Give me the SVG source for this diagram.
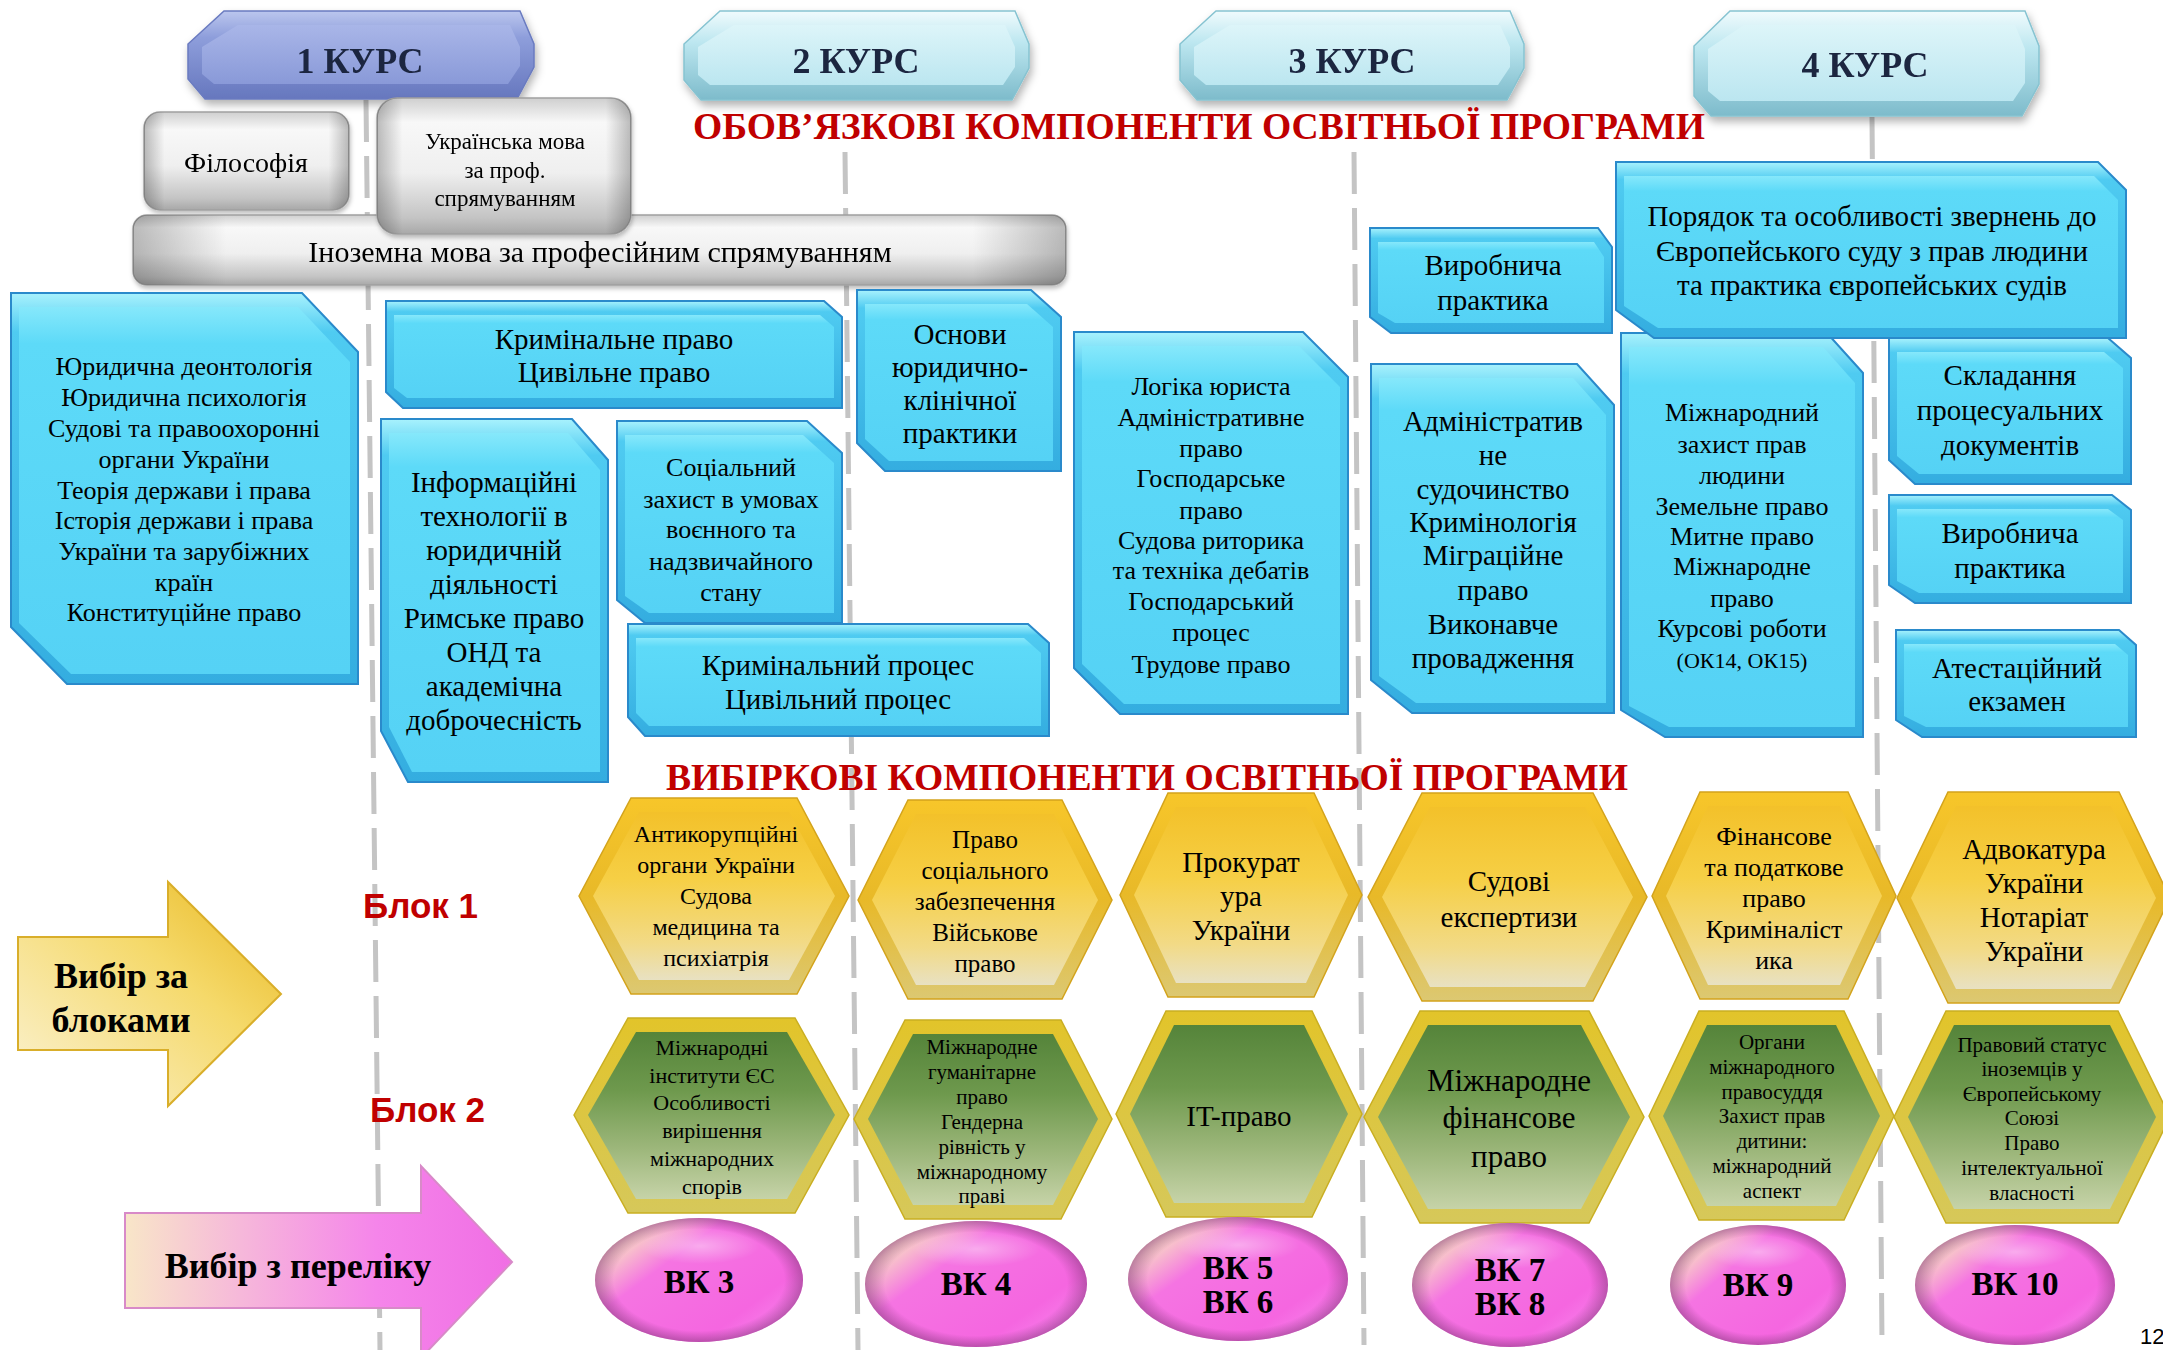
<svg xmlns="http://www.w3.org/2000/svg" width="2163" height="1350" viewBox="0 0 2163 1350">
<defs>
<style>
.t{font-family:"Liberation Serif","Times New Roman",serif;fill:#000;text-anchor:middle}
.f29{font-size:29px}.f26{font-size:26px}.f24{font-size:24px}.f22{font-size:22px}.f21{font-size:21px}
.hdr{font-family:"Liberation Serif","Times New Roman",serif;font-weight:bold;font-size:36px;fill:#1B2541;text-anchor:middle}
.ttl{font-family:"Liberation Serif","Times New Roman",serif;font-weight:bold;font-size:37px;fill:#C00000;text-anchor:middle}
.blk{font-family:"Liberation Sans",Arial,sans-serif;font-weight:bold;font-size:35px;fill:#C00000}
.bk{font-family:"Liberation Serif","Times New Roman",serif;font-weight:bold;font-size:33px;fill:#000;text-anchor:middle}
.arr{font-family:"Liberation Serif","Times New Roman",serif;font-weight:bold;font-size:36px;fill:#000;text-anchor:middle}
.bo{fill:url(#blueOuter);stroke:#2A8ACB;stroke-width:2}
.bi{fill:url(#blueInner)}
.yo{fill:url(#yelOuter);stroke:#D3A31C;stroke-width:1.5}
.yi{fill:url(#yelInner)}
.go{fill:url(#grnOuter);stroke:#C9AE22;stroke-width:1.5}
.gi{fill:url(#grnInner)}
.ball{fill:url(#pinkBall)}
.shade{fill:url(#ballShade)}
.hl{fill:url(#ballHl)}
.sep{fill:none;stroke:#C4C4C4;stroke-width:5;stroke-dasharray:42 14}
</style>
<linearGradient id="hbO" x1="0" y1="0" x2="0" y2="1"><stop offset="0" stop-color="#BBC6EE"/><stop offset="0.3" stop-color="#8E9EDB"/><stop offset="1" stop-color="#6677BE"/></linearGradient>
<linearGradient id="hbI" x1="0" y1="0" x2="0" y2="1"><stop offset="0" stop-color="#A9B6E8"/><stop offset="1" stop-color="#8999D8"/></linearGradient>
<linearGradient id="hcO" x1="0" y1="0" x2="0" y2="1"><stop offset="0" stop-color="#F0FBFD"/><stop offset="0.35" stop-color="#BDE7F0"/><stop offset="1" stop-color="#7DBBCB"/></linearGradient>
<linearGradient id="hcI" x1="0" y1="0" x2="0" y2="1"><stop offset="0" stop-color="#DDF5F9"/><stop offset="1" stop-color="#BBE6F0"/></linearGradient>
<linearGradient id="greyFill" x1="0" y1="0" x2="0" y2="1"><stop offset="0" stop-color="#CFCFCF"/><stop offset="0.18" stop-color="#F8F8F8"/><stop offset="0.55" stop-color="#EFEFEF"/><stop offset="0.88" stop-color="#C4C4C4"/><stop offset="1" stop-color="#A8A8A8"/></linearGradient>
<linearGradient id="greySide" x1="0" y1="0" x2="1" y2="0"><stop offset="0" stop-color="#000" stop-opacity="0.25"/><stop offset="0.1" stop-color="#000" stop-opacity="0"/><stop offset="0.9" stop-color="#000" stop-opacity="0"/><stop offset="1" stop-color="#000" stop-opacity="0.25"/></linearGradient>
<linearGradient id="blueOuter" x1="0" y1="0" x2="0" y2="1"><stop offset="0" stop-color="#A8F2FD"/><stop offset="0.1" stop-color="#4FCBF1"/><stop offset="1" stop-color="#34ADE0"/></linearGradient>
<linearGradient id="blueInner" x1="0" y1="0" x2="0" y2="1"><stop offset="0" stop-color="#86E8FB"/><stop offset="0.1" stop-color="#5DDAF8"/><stop offset="1" stop-color="#55D2F5"/></linearGradient>
<linearGradient id="yelOuter" x1="0" y1="0" x2="0" y2="1"><stop offset="0" stop-color="#F7C62A"/><stop offset="0.5" stop-color="#E8B928"/><stop offset="1" stop-color="#DCC872"/></linearGradient>
<linearGradient id="yelInner" x1="0" y1="0" x2="0" y2="1"><stop offset="0" stop-color="#F3C12A"/><stop offset="0.4" stop-color="#F6CF45"/><stop offset="0.78" stop-color="#F2DA86"/><stop offset="1" stop-color="#E8E1C2"/></linearGradient>
<linearGradient id="grnOuter" x1="0" y1="0" x2="0" y2="1"><stop offset="0" stop-color="#E2C42A"/><stop offset="1" stop-color="#D6C85A"/></linearGradient>
<linearGradient id="grnInner" x1="0" y1="0" x2="0" y2="1"><stop offset="0" stop-color="#55843A"/><stop offset="0.35" stop-color="#6E994D"/><stop offset="0.7" stop-color="#9DB77B"/><stop offset="1" stop-color="#C6D3A8"/></linearGradient>
<linearGradient id="pinkBall" x1="0" y1="0.1" x2="1" y2="0.9"><stop offset="0" stop-color="#F6F2B4"/><stop offset="0.14" stop-color="#F8D2C6"/><stop offset="0.34" stop-color="#F574E2"/><stop offset="0.75" stop-color="#F566E0"/><stop offset="1" stop-color="#F98AF0"/></linearGradient>
<radialGradient id="ballShade" cx="0.5" cy="0.5" r="0.5"><stop offset="0.82" stop-color="#8A3A80" stop-opacity="0"/><stop offset="1" stop-color="#8A3A80" stop-opacity="0.55"/></radialGradient>
<radialGradient id="ballHl" cx="0.5" cy="0.5" r="0.5"><stop offset="0" stop-color="#FFFFFF" stop-opacity="0.4"/><stop offset="1" stop-color="#FFFFFF" stop-opacity="0"/></radialGradient>
<linearGradient id="yelArrow" x1="1" y1="0" x2="0" y2="1"><stop offset="0" stop-color="#E8B61E"/><stop offset="0.4" stop-color="#F5D96A"/><stop offset="1" stop-color="#FBF3D6"/></linearGradient>
<linearGradient id="pinkArrow" x1="0" y1="0" x2="1" y2="0"><stop offset="0" stop-color="#F8E6C8"/><stop offset="0.3" stop-color="#F6B8DA"/><stop offset="0.65" stop-color="#F585EA"/><stop offset="1" stop-color="#F06EE4"/></linearGradient>
<filter id="sh" x="-10%" y="-10%" width="120%" height="140%"><feDropShadow dx="2" dy="5" stdDeviation="4" flood-color="#000" flood-opacity="0.3"/></filter>
<filter id="sh2" x="-10%" y="-10%" width="120%" height="130%"><feDropShadow dx="1" dy="3" stdDeviation="2" flood-color="#000" flood-opacity="0.25"/></filter>
</defs>
<rect width="2163" height="1350" fill="#FFFFFF"/>

<g id="connectors">
<line class="sep" x1="366" y1="100" x2="380" y2="1350"/>
<line class="sep" x1="845" y1="152" x2="858" y2="1350"/>
<line class="sep" x1="1354" y1="152" x2="1364" y2="1345"/>
<line class="sep" x1="1872" y1="117" x2="1882" y2="1345"/>
</g>

<g id="kurs1" filter="url(#sh)">
<polygon points="224,11 520,11 534,44 534,67 517,99 205,99 188,79 188,44" fill="url(#hbO)" stroke="#6A7BC0" stroke-width="1.5"/>
<polygon points="238,25 510,25 520,47 520,66 508,84 214,84 202,74 202,47" fill="url(#hbI)"/>
<text class="hdr" x="360" y="73">1 КУРС</text>
</g>
<g id="kurs2" filter="url(#sh)">
<polygon points="720,11 1015,11 1029,44 1029,68 1012,100 701,100 684,80 684,44" fill="url(#hcO)" stroke="#86C3D1" stroke-width="1.5"/>
<polygon points="734,25 1005,25 1015,47 1015,67 1003,85 710,85 698,75 698,47" fill="url(#hcI)"/>
<text class="hdr" x="856" y="73">2 КУРС</text>
</g>
<g id="kurs3" filter="url(#sh)">
<polygon points="1216,11 1510,11 1524,44 1524,68 1507,100 1197,100 1180,80 1180,44" fill="url(#hcO)" stroke="#86C3D1" stroke-width="1.5"/>
<polygon points="1230,25 1500,25 1510,47 1510,67 1498,85 1206,85 1194,75 1194,47" fill="url(#hcI)"/>
<text class="hdr" x="1352" y="73">3 КУРС</text>
</g>
<g id="kurs4" filter="url(#sh)">
<polygon points="1730,11 2025,11 2039,46 2039,84 2022,116 1711,116 1694,96 1694,46" fill="url(#hcO)" stroke="#86C3D1" stroke-width="1.5"/>
<polygon points="1744,25 2015,25 2025,49 2025,83 2013,101 1720,101 1708,91 1708,49" fill="url(#hcI)"/>
<text class="hdr" x="1865" y="77">4 КУРС</text>
</g>

<text id="title-mandatory" class="ttl" x="1199" y="139" textLength="1012" lengthAdjust="spacingAndGlyphs">ОБОВ’ЯЗКОВІ КОМПОНЕНТИ ОСВІТНЬОЇ ПРОГРАМИ</text>

<g id="filosofia" filter="url(#sh2)">
<rect x="144" y="112" width="205" height="98" rx="16" fill="url(#greyFill)" stroke="#A0A0A0" stroke-width="1.5"/>
<rect x="144" y="112" width="205" height="98" rx="16" fill="url(#greySide)"/>
<text class="t" x="246" y="172" font-size="28">Філософія</text>
</g>
<g id="inozemna" filter="url(#sh2)">
<rect x="133" y="215" width="933" height="70" rx="14" fill="url(#greyFill)" stroke="#A0A0A0" stroke-width="1.5"/>
<rect x="133" y="215" width="933" height="70" rx="14" fill="url(#greySide)"/>
<text class="t" x="600" y="262" font-size="30">Іноземна мова за професійним спрямуванням</text>
</g>
<g id="ukrmova" filter="url(#sh2)">
<rect x="377" y="98" width="254" height="136" rx="20" fill="url(#greyFill)" stroke="#A0A0A0" stroke-width="1.5"/>
<rect x="377" y="98" width="254" height="136" rx="20" fill="url(#greySide)"/>
<text class="t" font-size="23"><tspan x="505" y="149">Українська мова</tspan><tspan x="505" y="178">за проф.</tspan><tspan x="505" y="206">спрямуванням</tspan></text>
</g>

<g id="boxA">
<polygon class="bo" points="11,293 302,293 358,352 358,684 67,684 11,627"/>
<polygon class="bi" points="19,307 298,307 350,362 350,674 71,674 19,623"/>
<text class="t f26"><tspan x="184" y="375">Юридична деонтологія</tspan><tspan x="184" y="406">Юридична психологія</tspan><tspan x="184" y="437">Судові та правоохоронні</tspan><tspan x="184" y="468">органи України</tspan><tspan x="184" y="499">Теорія держави і права</tspan><tspan x="184" y="529">Історія держави і права</tspan><tspan x="184" y="560">України та зарубіжних</tspan><tspan x="184" y="591">країн</tspan><tspan x="184" y="621">Конституційне право</tspan></text>
</g>
<g id="boxB">
<polygon class="bo" points="386,301 824,301 842,317 842,408 403,408 386,392"/>
<polygon class="bi" points="394,315 820,315 834,327 834,398 407,398 394,388"/>
<text class="t f29"><tspan x="614" y="349">Кримінальне право</tspan><tspan x="614" y="382">Цивільне право</tspan></text>
</g>
<g id="boxC">
<polygon class="bo" points="857,290 1031,290 1061,317 1061,471 885,471 857,443"/>
<polygon class="bi" points="865,304 1027,304 1053,327 1053,461 889,461 865,439"/>
<text class="t f29"><tspan x="960" y="344">Основи</tspan><tspan x="960" y="377">юридично-</tspan><tspan x="960" y="410">клінічної</tspan><tspan x="960" y="443">практики</tspan></text>
</g>
<g id="boxD">
<polygon class="bo" points="381,419 572,419 608,460 608,782 408,782 381,731"/>
<polygon class="bi" points="389,433 568,433 600,470 600,772 412,772 389,727"/>
<text class="t f29"><tspan x="494" y="492">Інформаційні</tspan><tspan x="494" y="526">технології в</tspan><tspan x="494" y="560">юридичній</tspan><tspan x="494" y="594">діяльності</tspan><tspan x="494" y="628">Римське право</tspan><tspan x="494" y="662">ОНД та</tspan><tspan x="494" y="696">академічна</tspan><tspan x="494" y="730">доброчесність</tspan></text>
</g>
<g id="boxE">
<polygon class="bo" points="617,421 807,421 842,453 842,623 645,623 617,600"/>
<polygon class="bi" points="625,435 803,435 834,463 834,613 649,613 625,596"/>
<text class="t f26"><tspan x="731" y="476">Соціальний</tspan><tspan x="731" y="508">захист в умовах</tspan><tspan x="731" y="538">воєнного та</tspan><tspan x="731" y="570">надзвичайного</tspan><tspan x="731" y="601">стану</tspan></text>
</g>
<g id="boxF">
<polygon class="bo" points="628,624 1028,624 1049,643 1049,736 645,736 628,717"/>
<polygon class="bi" points="636,638 1024,638 1041,653 1041,726 649,726 636,713"/>
<text class="t f29"><tspan x="838" y="675">Кримінальний процес</tspan><tspan x="838" y="709">Цивільний процес</tspan></text>
</g>
<g id="boxG">
<polygon class="bo" points="1074,332 1303,332 1348,377 1348,714 1120,714 1074,668"/>
<polygon class="bi" points="1082,346 1299,346 1340,387 1340,704 1124,704 1082,664"/>
<text class="t f26"><tspan x="1211" y="395">Логіка юриста</tspan><tspan x="1211" y="426">Адміністративне</tspan><tspan x="1211" y="457">право</tspan><tspan x="1211" y="487">Господарське</tspan><tspan x="1211" y="519">право</tspan><tspan x="1211" y="549">Судова риторика</tspan><tspan x="1211" y="579">та техніка дебатів</tspan><tspan x="1211" y="610">Господарський</tspan><tspan x="1211" y="641">процес</tspan><tspan x="1211" y="673">Трудове право</tspan></text>
</g>
<g id="boxH">
<polygon class="bo" points="1370,228 1598,228 1612,247 1612,333 1391,333 1370,317"/>
<polygon class="bi" points="1378,242 1594,242 1604,257 1604,323 1395,323 1378,313"/>
<text class="t f29"><tspan x="1493" y="275">Виробнича</tspan><tspan x="1493" y="310">практика</tspan></text>
</g>
<g id="boxI">
<polygon class="bo" points="1371,364 1577,364 1614,405 1614,713 1412,713 1371,680"/>
<polygon class="bi" points="1379,378 1573,378 1606,415 1606,703 1416,703 1379,676"/>
<text class="t f29"><tspan x="1493" y="431">Адміністратив</tspan><tspan x="1493" y="465">не</tspan><tspan x="1493" y="499">судочинство</tspan><tspan x="1493" y="532">Кримінологія</tspan><tspan x="1493" y="565">Міграційне</tspan><tspan x="1493" y="600">право</tspan><tspan x="1493" y="634">Виконавче</tspan><tspan x="1493" y="668">провадження</tspan></text>
</g>
<g id="boxK">
<polygon class="bo" points="1621,333 1827,333 1863,373 1863,737 1665,737 1621,710"/>
<polygon class="bi" points="1629,347 1823,347 1855,383 1855,727 1669,727 1629,706"/>
<text class="t f26"><tspan x="1742" y="421">Міжнародний</tspan><tspan x="1742" y="453">захист прав</tspan><tspan x="1742" y="484">людини</tspan><tspan x="1742" y="515">Земельне право</tspan><tspan x="1742" y="545">Митне право</tspan><tspan x="1742" y="575">Міжнародне</tspan><tspan x="1742" y="607">право</tspan><tspan x="1742" y="637">Курсові роботи</tspan><tspan x="1742" y="668" font-size="22">(ОК14, ОК15)</tspan></text>
</g>
<g id="boxJ">
<polygon class="bo" points="1616,162 2098,162 2126,190 2126,338 1654,338 1616,310"/>
<polygon class="bi" points="1624,176 2094,176 2118,200 2118,328 1658,328 1624,306"/>
<text class="t f29"><tspan x="1872" y="226">Порядок та особливості звернень до</tspan><tspan x="1872" y="261">Європейського суду з прав людини</tspan><tspan x="1872" y="295">та практика європейських судів</tspan></text>
</g>
<g id="boxL">
<polygon class="bo" points="1889,338 2108,338 2131,358 2131,484 1915,484 1889,460"/>
<polygon class="bi" points="1897,352 2104,352 2123,368 2123,474 1919,474 1897,456"/>
<text class="t f29"><tspan x="2010" y="385">Складання</tspan><tspan x="2010" y="420">процесуальних</tspan><tspan x="2010" y="455">документів</tspan></text>
</g>
<g id="boxM">
<polygon class="bo" points="1889,495 2112,495 2131,510 2131,603 1915,603 1889,585"/>
<polygon class="bi" points="1897,509 2108,509 2123,520 2123,593 1919,593 1897,581"/>
<text class="t f29"><tspan x="2010" y="543">Виробнича</tspan><tspan x="2010" y="578">практика</tspan></text>
</g>
<g id="boxN">
<polygon class="bo" points="1896,630 2119,630 2136,645 2136,737 1922,737 1896,720"/>
<polygon class="bi" points="1904,644 2115,644 2128,655 2128,727 1926,727 1904,716"/>
<text class="t f29"><tspan x="2017" y="678">Атестаційний</tspan><tspan x="2017" y="711">екзамен</tspan></text>
</g>

<text id="title-elective" class="ttl" x="1147" y="790" textLength="962" lengthAdjust="spacingAndGlyphs">ВИБІРКОВІ КОМПОНЕНТИ ОСВІТНЬОЇ ПРОГРАМИ</text>

<text id="blok1" class="blk" x="363" y="918">Блок 1</text>
<text id="blok2" class="blk" x="370" y="1122">Блок 2</text>

<g id="arrow-blocks">
<polygon points="18,937 168,937 168,882 281,994 168,1106 168,1050 18,1050" fill="url(#yelArrow)" stroke="#D9AE2A" stroke-width="2"/>
<text class="arr"><tspan x="121" y="988">Вибір за</tspan><tspan x="121" y="1032">блоками</tspan></text>
</g>
<g id="arrow-list">
<polygon points="125,1213 421,1213 421,1166 512,1262 421,1358 421,1308 125,1308" fill="url(#pinkArrow)" stroke="#D88AC8" stroke-width="2"/>
<text class="arr" x="298" y="1278">Вибір з переліку</text>
</g>

<g id="hexY1">
<polygon class="yo" points="579,896 631,798 797,798 849,896 797,994 631,994"/>
<polygon class="yi" points="593,896 639,812 789,812 835,896 789,980 639,980"/>
<text class="t f24"><tspan x="716" y="842">Антикорупційні</tspan><tspan x="716" y="873">органи України</tspan><tspan x="716" y="904">Судова</tspan><tspan x="716" y="935">медицина та</tspan><tspan x="716" y="966">психіатрія</tspan></text>
</g>
<g id="hexY2">
<polygon class="yo" points="858,900 908,800 1062,800 1112,900 1062,999 908,999"/>
<polygon class="yi" points="872,900 916,814 1054,814 1098,900 1054,985 916,985"/>
<text class="t" font-size="25"><tspan x="985" y="848">Право</tspan><tspan x="985" y="879">соціального</tspan><tspan x="985" y="910">забезпечення</tspan><tspan x="985" y="941">Військове</tspan><tspan x="985" y="972">право</tspan></text>
</g>
<g id="hexY3">
<polygon class="yo" points="1120,895 1168,793 1314,793 1362,895 1314,997 1168,997"/>
<polygon class="yi" points="1134,895 1176,807 1306,807 1348,895 1306,983 1176,983"/>
<text class="t f29"><tspan x="1241" y="872">Прокурат</tspan><tspan x="1241" y="906">ура</tspan><tspan x="1241" y="940">України</tspan></text>
</g>
<g id="hexY4">
<polygon class="yo" points="1368,897 1422,793 1593,793 1647,897 1593,1001 1422,1001"/>
<polygon class="yi" points="1382,897 1430,807 1585,807 1633,897 1585,987 1430,987"/>
<text class="t f29"><tspan x="1509" y="891">Судові</tspan><tspan x="1509" y="927">експертизи</tspan></text>
</g>
<g id="hexY5">
<polygon class="yo" points="1652,896 1700,792 1848,792 1896,896 1848,999 1700,999"/>
<polygon class="yi" points="1666,896 1708,806 1840,806 1882,896 1840,985 1708,985"/>
<text class="t f26"><tspan x="1774" y="845">Фінансове</tspan><tspan x="1774" y="876">та податкове</tspan><tspan x="1774" y="907">право</tspan><tspan x="1774" y="938">Криміналіст</tspan><tspan x="1774" y="969">ика</tspan></text>
</g>
<g id="hexY6">
<polygon class="yo" points="1897,898 1948,792 2119,792 2170,898 2119,1003 1948,1003"/>
<polygon class="yi" points="1911,898 1956,806 2111,806 2156,898 2111,989 1956,989"/>
<text class="t f29"><tspan x="2034" y="859">Адвокатура</tspan><tspan x="2034" y="893">України</tspan><tspan x="2034" y="927">Нотаріат</tspan><tspan x="2034" y="961">України</tspan></text>
</g>

<g id="hexG1">
<polygon class="go" points="574,1115 628,1018 795,1018 849,1115 795,1213 628,1213"/>
<polygon class="gi" points="588,1115 636,1032 787,1032 835,1115 787,1199 636,1199"/>
<text class="t f22"><tspan x="712" y="1055">Міжнародні</tspan><tspan x="712" y="1083">інститути ЄС</tspan><tspan x="712" y="1110">Особливості</tspan><tspan x="712" y="1138">вирішення</tspan><tspan x="712" y="1166">міжнародних</tspan><tspan x="712" y="1194">спорів</tspan></text>
</g>
<g id="hexG2">
<polygon class="go" points="854,1119 905,1020 1061,1020 1112,1119 1061,1219 905,1219"/>
<polygon class="gi" points="868,1119 913,1034 1053,1034 1098,1119 1053,1205 913,1205"/>
<text class="t f21"><tspan x="982" y="1054">Міжнародне</tspan><tspan x="982" y="1079">гуманітарне</tspan><tspan x="982" y="1104">право</tspan><tspan x="982" y="1129">Гендерна</tspan><tspan x="982" y="1154">рівність у</tspan><tspan x="982" y="1179">міжнародному</tspan><tspan x="982" y="1203">праві</tspan></text>
</g>
<g id="hexG3">
<polygon class="go" points="1116,1114 1166,1011 1312,1011 1362,1114 1312,1217 1166,1217"/>
<polygon class="gi" points="1130,1114 1174,1025 1304,1025 1348,1114 1304,1203 1174,1203"/>
<text class="t f29" x="1239" y="1126">IT-право</text>
</g>
<g id="hexG4">
<polygon class="go" points="1364,1117 1420,1011 1589,1011 1644,1117 1589,1223 1420,1223"/>
<polygon class="gi" points="1378,1117 1428,1025 1581,1025 1630,1117 1581,1209 1428,1209"/>
<text class="t" font-size="31"><tspan x="1509" y="1091">Міжнародне</tspan><tspan x="1509" y="1128">фінансове</tspan><tspan x="1509" y="1167">право</tspan></text>
</g>
<g id="hexG5">
<polygon class="go" points="1649,1116 1699,1011 1844,1011 1894,1116 1844,1220 1699,1220"/>
<polygon class="gi" points="1663,1116 1707,1025 1836,1025 1880,1116 1836,1206 1707,1206"/>
<text class="t f21"><tspan x="1772" y="1049">Органи</tspan><tspan x="1772" y="1074">міжнародного</tspan><tspan x="1772" y="1099">правосуддя</tspan><tspan x="1772" y="1123">Захист прав</tspan><tspan x="1772" y="1148">дитини:</tspan><tspan x="1772" y="1173">міжнародний</tspan><tspan x="1772" y="1198">аспект</tspan></text>
</g>
<g id="hexG6">
<polygon class="go" points="1894,1117 1946,1011 2118,1011 2170,1117 2118,1223 1946,1223"/>
<polygon class="gi" points="1908,1117 1954,1025 2110,1025 2156,1117 2110,1209 1954,1209"/>
<text class="t f21"><tspan x="2032" y="1052">Правовий статус</tspan><tspan x="2032" y="1076">іноземців у</tspan><tspan x="2032" y="1101">Європейському</tspan><tspan x="2032" y="1125">Союзі</tspan><tspan x="2032" y="1150">Право</tspan><tspan x="2032" y="1175">інтелектуальної</tspan><tspan x="2032" y="1200">власності</tspan></text>
</g>

<g id="vk3">
<ellipse class="ball" cx="699" cy="1280" rx="104" ry="62"/>
<ellipse class="shade" cx="699" cy="1280" rx="104" ry="62"/>
<ellipse class="hl" cx="700" cy="1246" rx="60" ry="18"/>
<text class="bk" x="699" y="1293">ВК 3</text>
</g>
<g id="vk4">
<ellipse class="ball" cx="976" cy="1284" rx="111" ry="63"/>
<ellipse class="shade" cx="976" cy="1284" rx="111" ry="63"/>
<ellipse class="hl" cx="976" cy="1249" rx="64" ry="18"/>
<text class="bk" x="976" y="1295">ВК 4</text>
</g>
<g id="vk56">
<ellipse class="ball" cx="1238" cy="1279" rx="110" ry="62"/>
<ellipse class="shade" cx="1238" cy="1279" rx="110" ry="62"/>
<ellipse class="hl" cx="1238" cy="1245" rx="62" ry="18"/>
<text class="bk"><tspan x="1238" y="1279">ВК 5</tspan><tspan x="1238" y="1313">ВК 6</tspan></text>
</g>
<g id="vk78">
<ellipse class="ball" cx="1510" cy="1285" rx="98" ry="62"/>
<ellipse class="shade" cx="1510" cy="1285" rx="98" ry="62"/>
<ellipse class="hl" cx="1510" cy="1251" rx="56" ry="18"/>
<text class="bk"><tspan x="1510" y="1281">ВК 7</tspan><tspan x="1510" y="1315">ВК 8</tspan></text>
</g>
<g id="vk9">
<ellipse class="ball" cx="1758" cy="1285" rx="88" ry="60"/>
<ellipse class="shade" cx="1758" cy="1285" rx="88" ry="60"/>
<ellipse class="hl" cx="1758" cy="1252" rx="50" ry="17"/>
<text class="bk" x="1758" y="1296">ВК 9</text>
</g>
<g id="vk10">
<ellipse class="ball" cx="2015" cy="1285" rx="100" ry="60"/>
<ellipse class="shade" cx="2015" cy="1285" rx="100" ry="60"/>
<ellipse class="hl" cx="2015" cy="1252" rx="56" ry="17"/>
<text class="bk" x="2015" y="1295">ВК 10</text>
</g>

<text id="page" x="2140" y="1344" font-family="Liberation Sans, Arial, sans-serif" font-size="22" fill="#000">12</text>
</svg>
